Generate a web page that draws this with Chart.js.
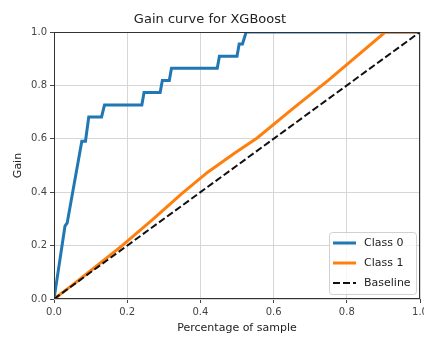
<!DOCTYPE html>
<html>
<head>
<meta charset="utf-8">
<script src="https://cdn.jsdelivr.net/npm/chart.js@4/dist/chart.umd.min.js"></script>
<style>
  html, body { margin: 0; padding: 0; background: #ffffff; }
  #wrap { width: 424px; height: 340px; }
</style>
</head>
<body>
<div id="wrap"><canvas id="c" width="424" height="340"></canvas></div>
<script>
// ---- data ----
const chartTitle = "Gain curve for XGBoost";
const xTitle = "Percentage of sample";
const yTitle = "Gain";
const seriesLabels = ["Class 0", "Class 1", "Baseline"];

const class0X = [0, 0.030, 0.036, 0.076, 0.086, 0.095, 0.130, 0.138, 0.240, 0.246, 0.290, 0.296, 0.315, 0.321, 0.446, 0.452, 0.500, 0.506, 0.515, 0.525, 1.0];
const class0Y = [0, 0.273, 0.285, 0.591, 0.591, 0.682, 0.682, 0.727, 0.727, 0.773, 0.773, 0.818, 0.818, 0.864, 0.864, 0.909, 0.909, 0.955, 0.955, 1.0, 1.0];

const class1X = [0, 0.05, 0.10, 0.186, 0.27, 0.35, 0.42, 0.495, 0.555, 0.65, 0.75, 0.80, 0.905, 1.0];
const class1Y = [0, 0.052, 0.106, 0.200, 0.298, 0.396, 0.475, 0.548, 0.603, 0.710, 0.820, 0.878, 1.0, 1.0];

const baselineX = [0, 1];
const baselineY = [0, 1];

const xTicks = [0.0, 0.2, 0.4, 0.6, 0.8, 1.0];
const yTicks = [0.0, 0.2, 0.4, 0.6, 0.8, 1.0];

const colors = ["#1f77b4", "#ff7f0e", "#111111"];

function pts(xs, ys) { return xs.map((x, i) => ({ x: x, y: ys[i] })); }

const FONT = "'DejaVu Sans', 'Liberation Sans', sans-serif";

const spinesAndLegend = {
  id: 'spinesAndLegend',
  afterDatasetsDraw(chart) {
    const ctx = chart.ctx;
    const a = chart.chartArea;
    ctx.save();
    ctx.strokeStyle = '#333333';
    ctx.lineWidth = 1;
    ctx.strokeRect(a.left + 0.5, a.top + 0.5, a.right - a.left - 1, a.bottom - a.top - 1);

    // legend box (lower right)
    const bx = 329, by = 232, bw = 87, bh = 62;
    ctx.fillStyle = 'rgba(255,255,255,0.8)';
    ctx.strokeStyle = '#d0d0d0';
    ctx.lineWidth = 1;
    ctx.beginPath();
    if (ctx.roundRect) ctx.roundRect(bx + 0.5, by + 0.5, bw, bh, 3); else ctx.rect(bx + 0.5, by + 0.5, bw, bh);
    ctx.fill();
    ctx.stroke();

    const rows = [243, 263, 283];
    chart.data.datasets.forEach((ds, i) => {
      const y = rows[i];
      ctx.strokeStyle = ds.borderColor;
      ctx.lineWidth = ds.borderWidth;
      ctx.setLineDash(ds.borderDash || []);
      ctx.beginPath();
      ctx.moveTo(333, y);
      ctx.lineTo(356, y);
      ctx.stroke();
      ctx.setLineDash([]);
      ctx.fillStyle = '#222222';
      ctx.font = '11px ' + FONT;
      ctx.textBaseline = 'middle';
      ctx.textAlign = 'left';
      ctx.fillText(ds.label, 364, y);
    });
    ctx.restore();
  }
};

new Chart(document.getElementById('c'), {
  type: 'line',
  data: {
    datasets: [
      { label: seriesLabels[0], data: pts(class0X, class0Y), borderColor: colors[0], borderWidth: 3, pointRadius: 0, tension: 0, fill: false, order: 3, clip: 0 },
      { label: seriesLabels[1], data: pts(class1X, class1Y), borderColor: colors[1], borderWidth: 3, pointRadius: 0, tension: 0, fill: false, order: 2, clip: 0 },
      { label: seriesLabels[2], data: pts(baselineX, baselineY), borderColor: colors[2], borderWidth: 2, borderDash: [7, 3], pointRadius: 0, tension: 0, fill: false, order: 1, clip: 0 }
    ]
  },
  options: {
    responsive: false,
    animation: false,
    events: [],
    layout: { padding: { left: 0, right: 4, top: 0, bottom: 0 } },
    plugins: {
      legend: { display: false },
      tooltip: { enabled: false },
      title: {
        display: true,
        text: chartTitle,
        color: '#222222',
        font: { family: FONT, size: 13, weight: 'normal', lineHeight: 1.2 },
        padding: { top: 12.2, bottom: 4.2 }
      }
    },
    scales: {
      x: {
        type: 'linear',
        min: 0, max: 1,
        afterBuildTicks(scale) { scale.ticks = xTicks.map(v => ({ value: v })); },
        afterFit(scale) { scale.height = 41; scale.paddingLeft = 0; scale.paddingRight = 0; },
        ticks: {
          color: '#444444',
          font: { family: FONT, size: 10 },
          padding: 3,
          maxRotation: 0,
          autoSkip: false,
          callback: v => Number(v).toFixed(1)
        },
        grid: { color: '#d6d6d6', lineWidth: 1, tickLength: 4, tickColor: '#444444' },
        border: { display: false },
        title: { display: true, text: xTitle, color: '#222222', font: { family: FONT, size: 11 }, padding: { top: 0, bottom: 5.5 } }
      },
      y: {
        type: 'linear',
        min: 0, max: 1,
        afterBuildTicks(scale) { scale.ticks = yTicks.map(v => ({ value: v })); },
        afterFit(scale) { scale.width = 54; scale.paddingTop = 0; scale.paddingBottom = 0; },
        ticks: {
          color: '#444444',
          font: { family: FONT, size: 10 },
          padding: 3,
          autoSkip: false,
          callback: v => Number(v).toFixed(1)
        },
        grid: { color: '#d6d6d6', lineWidth: 1, tickLength: 4, tickColor: '#444444' },
        border: { display: false },
        title: { display: true, text: yTitle, color: '#222222', font: { family: FONT, size: 11 }, padding: { top: 11.5, bottom: 0 } }
      }
    }
  },
  plugins: [spinesAndLegend]
});
</script>
</body>
</html>
